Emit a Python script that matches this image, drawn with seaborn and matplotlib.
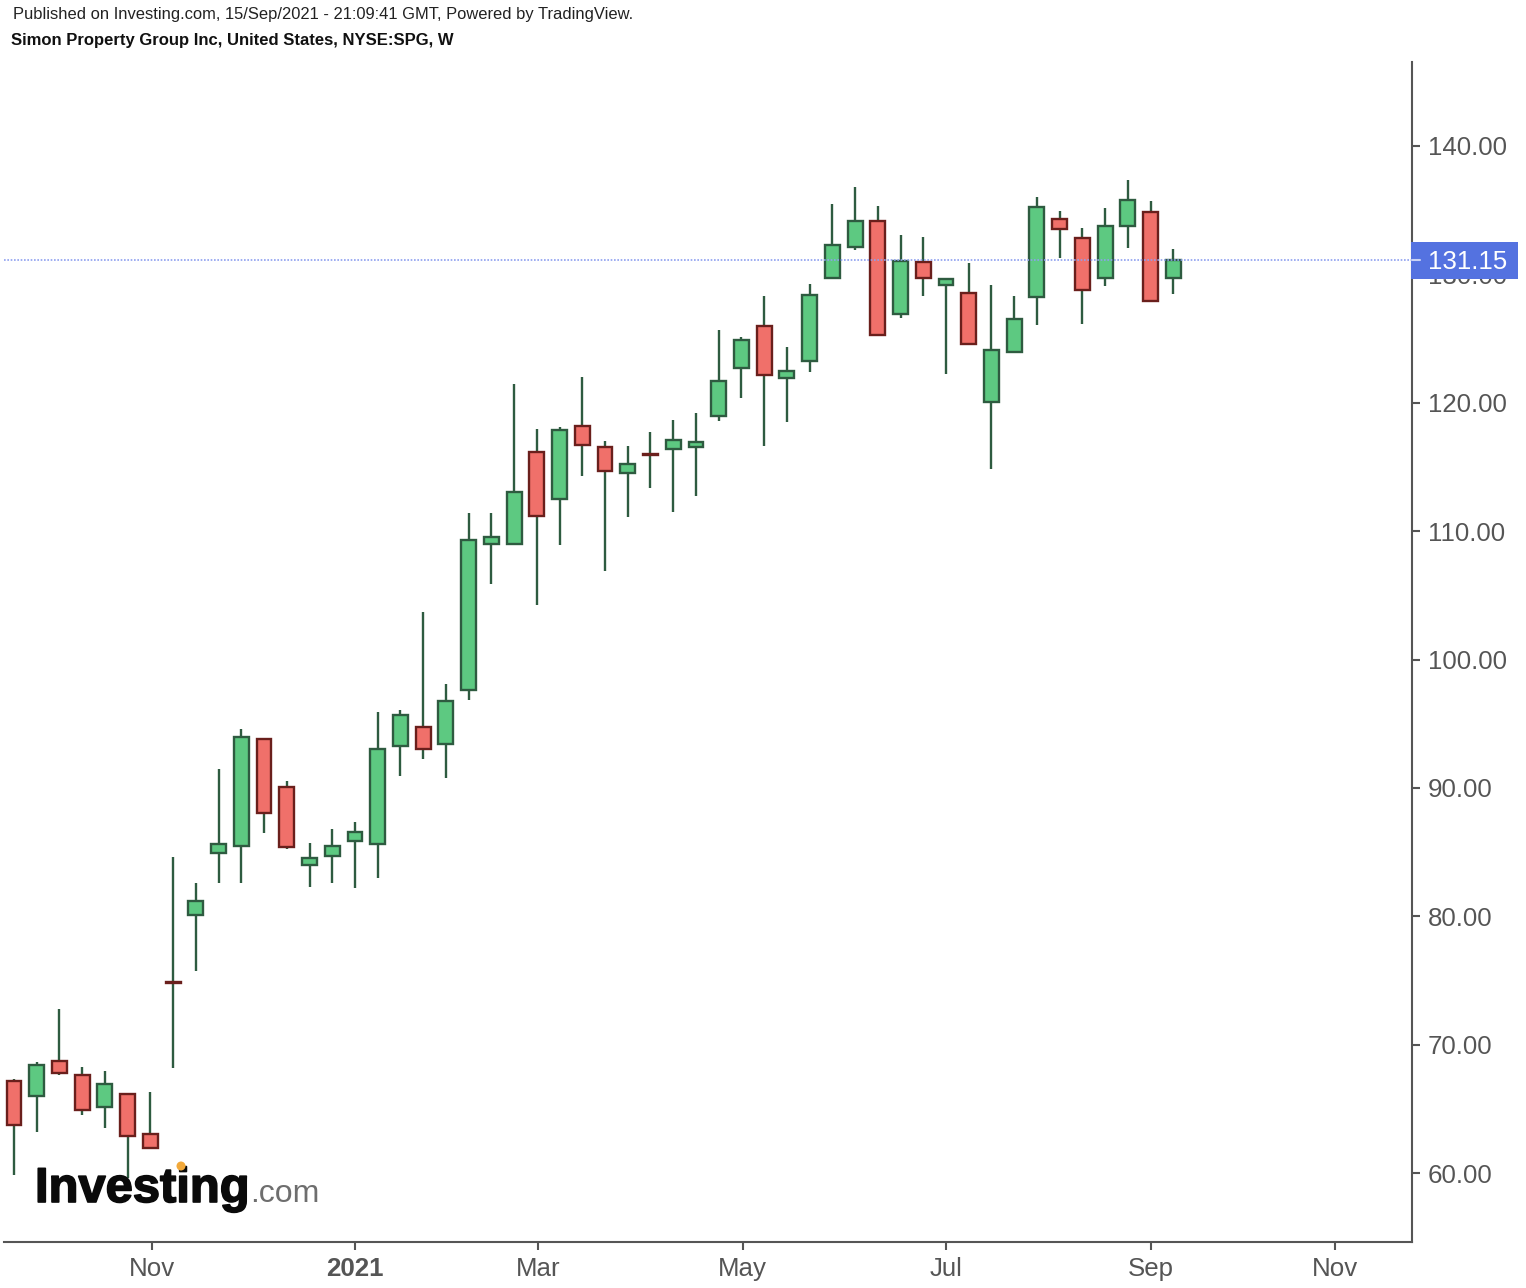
import matplotlib
matplotlib.use("Agg")
import matplotlib.pyplot as plt
import matplotlib.patheffects as pe
import pandas as pd
import seaborn as sns
from matplotlib.patches import Rectangle, Ellipse
from matplotlib.transforms import blended_transform_factory

body_top = [67.18,68.43,68.74,67.65,66.95,66.17,63.05,74.89,81.20,85.64,93.97,93.82,90.08,84.55,85.48,86.57,
            93.04,95.69,94.75,96.78,109.31,109.55,113.05,116.17,117.88,118.19,116.56,115.23,116.01,117.10,116.95,121.70,
            124.89,125.98,122.48,128.40,132.29,134.16,134.16,131.04,130.97,129.64,128.55,124.11,126.53,135.25,134.31,132.83,
            133.77,135.79,134.86,131.15]
body_bottom = [63.75,66.01,67.80,64.92,65.16,62.90,61.96,74.85,80.11,84.94,85.48,88.05,85.40,84.00,84.70,85.87,
               85.64,93.27,93.04,93.43,97.63,109.00,109.00,111.18,112.51,116.71,114.69,114.53,115.97,116.40,116.56,118.97,
               122.71,122.17,121.93,123.26,129.72,132.13,125.28,126.92,129.72,129.17,124.58,120.06,123.96,128.24,133.54,128.79,
               129.72,133.77,127.93,129.72]
wick_high = [67.34,68.66,72.79,68.27,67.96,66.17,66.32,84.63,82.60,91.48,94.60,93.82,90.55,85.72,86.81,87.35,
             95.92,96.07,103.71,98.10,111.42,111.42,121.46,117.96,118.12,122.01,117.03,116.64,117.73,118.66,119.21,125.67,
             125.12,128.32,124.35,129.25,135.48,136.81,135.33,133.07,132.91,129.64,130.89,129.17,128.32,136.03,134.94,133.61,
             135.17,137.35,135.72,131.98]
wick_low = [59.86,63.21,67.65,64.53,63.52,59.63,61.96,68.19,75.75,82.60,82.60,86.50,85.25,82.29,82.60,82.21,
            82.99,90.93,92.26,90.78,96.85,105.89,109.00,104.25,108.93,114.30,106.90,111.11,113.36,111.50,112.74,118.58,
            120.37,116.64,118.50,122.40,129.72,131.90,125.28,126.60,128.32,122.24,124.50,114.84,123.96,126.06,131.28,126.14,
            129.10,132.06,127.93,128.47]
is_up = [0,1,0,0,1,0,0,0,1,1,1,0,0,1,1,1,
         1,1,0,1,1,1,1,0,1,0,0,1,0,1,1,1,
         1,0,1,1,1,1,0,1,0,1,0,1,1,1,0,0,
         1,1,0,1]
x_tick_pos = [6.05, 15, 23.05, 32.05, 41, 50, 58.1]
x_tick_labels = ["Nov", "2021", "Mar", "May", "Jul", "Sep", "Nov"]
y_ticks = [60, 70, 80, 90, 100, 110, 120, 130, 140]
last_price = 131.15

GREEN, GREEN_EDGE = "#5DC981", "#2E5B40"
RED, RED_EDGE = "#F0706A", "#6A1F1C"
GREY = "#555555"

sns.set_theme(style="white")
plt.rcParams["font.family"] = ["Liberation Sans", "DejaVu Sans"]

fig = plt.figure(figsize=(15.26, 12.88), dpi=100)
ax = fig.add_axes([4/1526, 1-1242/1288, 1408/1526, 1180/1288])

weeks = list(range(len(body_top)))
wicks = pd.DataFrame({"week": weeks * 2, "price": wick_high + wick_low})
sns.lineplot(data=wicks, x="week", y="price", units="week", estimator=None,
             color=GREEN_EDGE, lw=1.7, ax=ax, zorder=2, solid_capstyle="butt")

for i, (t, b, u) in enumerate(zip(body_top, body_bottom, is_up)):
    ax.bar(i, t - b, bottom=b, width=0.655, color=GREEN if u else RED,
           edgecolor=GREEN_EDGE if u else RED_EDGE, linewidth=1.7, zorder=3)

ax.axhline(last_price, color="#8E9FF0", lw=1.2, ls=(0, (1, 1)), zorder=4)

ax.set_xlim(-0.44, 61.5)
ax.set_ylim(54.64, 146.54)
ax.set_xlabel("")
ax.set_ylabel("")
sns.despine(ax=ax, left=True, right=False, top=True, bottom=False)
for s in ("right", "bottom"):
    ax.spines[s].set_color(GREY)
    ax.spines[s].set_linewidth(1.5)

ax.yaxis.tick_right()
ax.set_yticks(y_ticks, [f"{v:.2f}" for v in y_ticks])
ax.set_xticks(x_tick_pos, x_tick_labels)
ax.tick_params(axis="y", length=5.8, width=1.5, color=GREY, labelcolor=GREY, labelsize=18.6, pad=5.5, right=True, left=False)
ax.tick_params(axis="x", length=5.8, width=1.5, color=GREY, labelcolor=GREY, labelsize=18.6, pad=5, bottom=True)
for lab in ax.get_xticklabels():
    if lab.get_text() == "2021":
        lab.set_fontweight("bold")

trans = blended_transform_factory(ax.transAxes, ax.transData)
ax.add_patch(Rectangle((0.9995, last_price - 1.5), 0.0755, 2.88, transform=trans,
                       facecolor="#5472E0", edgecolor="none", clip_on=False, zorder=6))
ax.plot([1.0, 1.0057], [last_price, last_price], transform=trans, color="#C9D2F5", lw=1.5,
        clip_on=False, zorder=7)
ax.text(1.0114, last_price, f"{last_price:.2f}", transform=trans, color="white", fontsize=18.6,
        va="center_baseline", ha="left", zorder=8, clip_on=False)

fig.text(13/1526, 1-14/1288, "Published on Investing.com, 15/Sep/2021 - 21:09:41 GMT, Powered by TradingView.",
         fontsize=11.9, color="#222222", va="center", ha="left")
fig.text(11/1526, 1-41/1288, "Simon Property Group Inc, United States, NYSE:SPG, W",
         fontsize=12.0, fontweight="bold", color="#111111", va="center", ha="left")

# Logo
fig.text(35/1526, 1-1202/1288, "Investing", fontsize=35.2, fontweight="bold", color="#0A0A0A",
         va="baseline", ha="left", zorder=9,
         path_effects=[pe.withStroke(linewidth=1.2, foreground="#0A0A0A")])
fig.text(250/1526, 1-1202/1288, ".com", fontsize=23, color="#6E6E6E", va="baseline", ha="left", zorder=9)
fig.add_artist(Ellipse((181/1526, 1-1166/1288), 9/1526, 9/1288, angle=0, facecolor="#F2A93B",
                       edgecolor="none", transform=fig.transFigure, zorder=10))

fig.savefig("out.png", dpi=100, facecolor="white")
